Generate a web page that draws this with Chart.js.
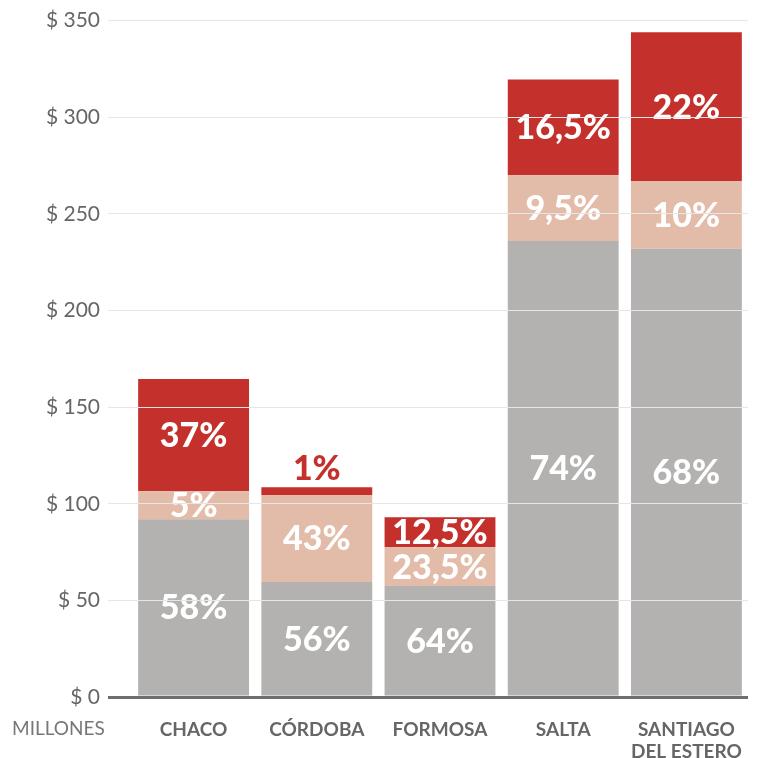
<!DOCTYPE html>
<html>
<head>
<meta charset="utf-8">
<script src="https://cdn.jsdelivr.net/npm/chart.js@4/dist/chart.umd.min.js"></script>
<style>
  body { margin: 0; background: #fff; }
</style>
</head>
<body>
<canvas id="provChart" width="760" height="758"></canvas>
<script>
const provinces = ['CHACO', 'CÓRDOBA', 'FORMOSA', 'SALTA', ['SANTIAGO', 'DEL ESTERO']];
const grayValues = [92, 59.5, 57.4, 236, 232];
const pinkValues = [14.5, 45, 20.2, 34, 35];
const redValues = [58, 4, 15.4, 49.5, 77];
const grayLabels = ['58%', '56%', '64%', '74%', '68%'];
const pinkLabels = ['5%', '43%', '23,5%', '9,5%', '10%'];
const redLabels = ['37%', '1%', '12,5%', '16,5%', '22%'];
const yTicks = [0, 50, 100, 150, 200, 250, 300, 350];

const GRAY = '#b3b2b1';
const PINK = '#e3bca9';
const RED = '#c4302b';

// percent labels drawn inside each segment (or above it when too thin)
const segmentLabels = {
  id: 'segmentLabels',
  afterDatasetsDraw(chart) {
    const ctx = chart.ctx;
    ctx.save();
    ctx.font = '900 34px Lato';
    ctx.textAlign = 'center';
    ctx.textBaseline = 'middle';
    chart.data.datasets.forEach((ds, i) => {
      const meta = chart.getDatasetMeta(i);
      meta.data.forEach((bar, j) => {
        const text = ds.pctLabels[j];
        const h = Math.abs(bar.base - bar.y);
        if (h < 20) {
          ctx.fillStyle = ds.backgroundColor;
          ctx.fillText(text, bar.x, bar.y - 18);
        } else {
          ctx.fillStyle = '#ffffff';
          ctx.fillText(text, bar.x, (bar.y + bar.base) / 2 + 1);
        }
      });
    });
    ctx.restore();
  },
  afterDraw(chart) {
    const ctx = chart.ctx;
    ctx.save();
    ctx.font = '19px Lato';
    ctx.fillStyle = '#777777';
    ctx.textAlign = 'left';
    ctx.textBaseline = 'middle';
    ctx.fillText('MILLONES', 12, 729);
    ctx.restore();
  },
};

new Chart(document.getElementById('provChart'), {
  type: 'bar',
  data: {
    labels: provinces,
    datasets: [
      { data: grayValues, backgroundColor: GRAY, pctLabels: grayLabels },
      { data: pinkValues, backgroundColor: PINK, pctLabels: pinkLabels },
      { data: redValues, backgroundColor: RED, pctLabels: redLabels },
    ],
  },
  options: {
    responsive: false,
    animation: false,
    layout: { padding: { top: 20, right: 12, left: 0, bottom: 0 } },
    datasets: {
      bar: { barPercentage: 0.9, categoryPercentage: 1, borderWidth: 0 },
    },
    scales: {
      x: {
        stacked: true,
        grid: { display: false },
        border: { display: false },
        ticks: {
          color: '#666666',
          font: { family: 'Lato', size: 19, weight: 'bold', lineHeight: 1.2 },
          padding: 13,
          maxRotation: 0,
        },
        afterFit(scale) { scale.height = 61; },
      },
      y: {
        stacked: true,
        min: 0,
        max: 350,
        afterBuildTicks(scale) { scale.ticks = yTicks.map(v => ({ value: v })); },
        border: { display: false },
        grid: {
          color: c => (c.tick && c.tick.value === 0 ? '#6e6e6e' : '#e6e6e6'),
          lineWidth: c => (c.tick && c.tick.value === 0 ? 3 : 1),
          tickLength: 24,
          z: 1,
        },
        ticks: {
          color: '#666666',
          font: { family: 'Lato', size: 21 },
          padding: 8,
          callback: v => '$ ' + v,
        },
        afterFit(scale) { scale.width = 132; },
      },
    },
    plugins: {
      legend: { display: false },
      tooltip: { enabled: false },
    },
  },
  plugins: [segmentLabels],
});
</script>
</body>
</html>
